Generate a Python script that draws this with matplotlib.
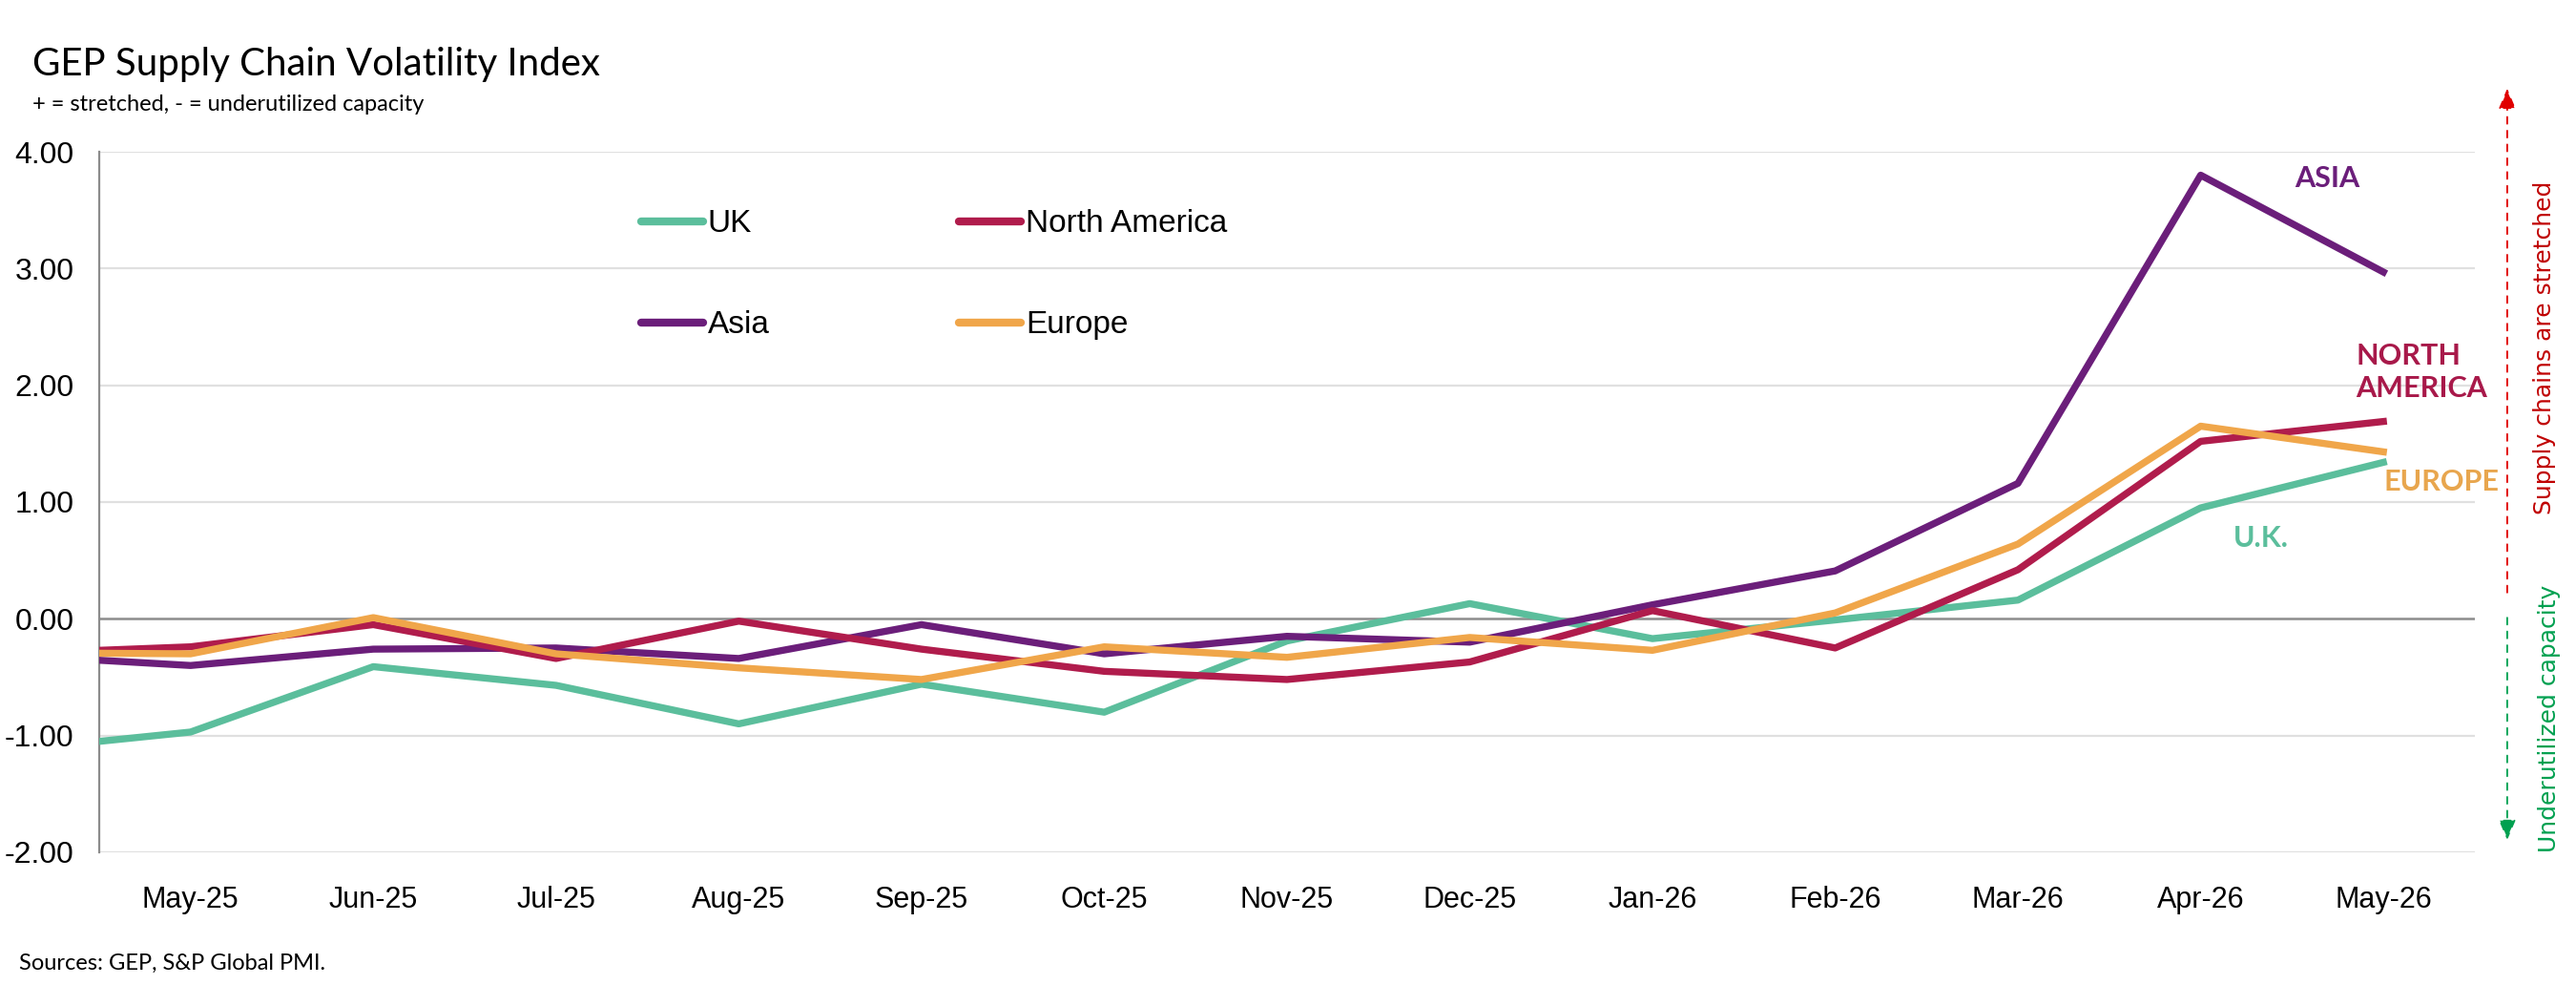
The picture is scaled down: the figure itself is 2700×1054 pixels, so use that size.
import numpy as np
import matplotlib.pyplot as plt

# meses (Apr-25 queda recortado por el borde izquierdo del eje)
meses = ["Apr-25", "May-25", "Jun-25", "Jul-25", "Aug-25", "Sep-25", "Oct-25",
         "Nov-25", "Dec-25", "Jan-26", "Feb-26", "Mar-26", "Apr-26", "May-26"]

uk = [-1.13, -0.97, -0.41, -0.57, -0.90, -0.56, -0.80, -0.19, 0.13, -0.17, -0.01, 0.16, 0.95, 1.34]
north_america = [-0.30, -0.24, -0.05, -0.34, -0.02, -0.26, -0.45, -0.52, -0.37, 0.07, -0.25, 0.42, 1.52, 1.69]
asia = [-0.31, -0.40, -0.26, -0.25, -0.34, -0.05, -0.30, -0.15, -0.20, 0.12, 0.41, 1.16, 3.80, 2.97]
europe = [-0.29, -0.30, 0.01, -0.30, -0.42, -0.52, -0.24, -0.33, -0.16, -0.27, 0.05, 0.64, 1.65, 1.43]

y_ticks = [-2, -1, 0, 1, 2, 3, 4]

c_uk = "#5BBE9C"
c_na = "#B01C4C"
c_asia = "#6B1E7A"
c_eu = "#F0A64A"

fuente_ejes = "Liberation Sans"
fuente_texto = "Lato"

fig = plt.figure(figsize=(27, 10.54), dpi=100)
ax = fig.add_axes([0.0385, 0.1528, 0.9222, 0.6963])

x = np.arange(len(meses)) - 1  # May-25 en x=0

lw = 5.3
ax.plot(x, uk, color=c_uk, lw=lw, label="UK", zorder=3)
ax.plot(x, asia, color=c_asia, lw=lw, label="Asia", zorder=3)
ax.plot(x, north_america, color=c_na, lw=lw, label="North America", zorder=3)
ax.plot(x, europe, color=c_eu, lw=lw, label="Europe", zorder=3)

ax.set_xlim(-0.5, len(meses) - 1.5)
ax.set_ylim(-2, 4)
ax.set_xticks(x[1:])
ax.set_xticklabels(meses[1:], fontfamily=fuente_ejes, fontsize=22)
ax.set_yticks(y_ticks)
ax.set_yticklabels(["%.2f" % v for v in y_ticks], fontfamily=fuente_ejes, fontsize=23)
ax.tick_params(axis="both", length=0)
ax.tick_params(axis="x", pad=25)
ax.tick_params(axis="y", pad=19)

for v in y_ticks:
    if v == 0:
        ax.axhline(v, color="#8C8C8C", lw=1.8, zorder=2)
    else:
        ax.axhline(v, color="#E0E0E0", lw=1.6, zorder=1)

for s in ["top", "right", "bottom"]:
    ax.spines[s].set_visible(False)
ax.spines["left"].set_color("#8C8C8C")
ax.spines["left"].set_linewidth(1.6)

leg = ax.legend(loc="upper left", bbox_to_anchor=(0.228, 0.918), ncol=2, frameon=False,
                prop={"family": fuente_ejes, "size": 24}, handlelength=1.95,
                handletextpad=0.15, labelspacing=2.25, columnspacing=5.95,
                borderpad=0, borderaxespad=0)
for h in leg.get_lines():
    h.set_linewidth(6)
    h.set_solid_capstyle("round")

# etiquetas de cada serie
ax.text(11.69, 3.77, "ASIA", color=c_asia, fontsize=22, fontweight="bold",
        fontfamily=fuente_texto, ha="center", va="center")
ax.text(11.85, 2.11, "NORTH\nAMERICA", color="#A8194A", fontsize=22, fontweight="bold",
        fontfamily=fuente_texto, ha="left", va="center", linespacing=1.25)
ax.text(12.0, 1.175, "EUROPE", color="#E8A64E", fontsize=22, fontweight="bold",
        fontfamily=fuente_texto, ha="left", va="center")
ax.text(11.33, 0.69, "U.K.", color=c_uk, fontsize=22, fontweight="bold",
        fontfamily=fuente_texto, ha="center", va="center")

# flechas laterales
ax.annotate("", xy=(0.9733, 0.912), xytext=(0.9733, 0.411), xycoords="figure fraction",
            arrowprops=dict(arrowstyle="-|>,head_length=1.3,head_width=0.55", color="#E00000",
                            lw=1.3, linestyle=(0, (4, 4)), shrinkA=0, shrinkB=0))
ax.annotate("", xy=(0.9733, 0.165), xytext=(0.9733, 0.386), xycoords="figure fraction",
            arrowprops=dict(arrowstyle="-|>,head_length=1.3,head_width=0.55", color="#00A050",
                            lw=1.3, linestyle=(0, (4, 4)), shrinkA=0, shrinkB=0))
fig.text(0.9878, 0.6546, "Supply chains are stretched", rotation=90, color="#C00000",
         fontsize=18, fontfamily="DejaVu Sans", ha="center", va="center")
fig.text(0.9896, 0.2856, "Underutilized capacity", rotation=90, color="#00A050",
         fontsize=18, fontfamily="DejaVu Sans", ha="center", va="center")

# titulos y fuente
fig.text(0.0126, 0.925, "GEP Supply Chain Volatility Index", fontsize=29,
         fontfamily=fuente_texto, ha="left", va="baseline")
fig.text(0.0126, 0.89, "+ = stretched, - = underutilized capacity", fontsize=17,
         fontfamily=fuente_texto, ha="left", va="baseline")
fig.text(0.0074, 0.036, "Sources: GEP, S&P Global PMI.", fontsize=17,
         fontfamily=fuente_texto, ha="left", va="baseline")

fig.savefig("out.png", dpi=100)
